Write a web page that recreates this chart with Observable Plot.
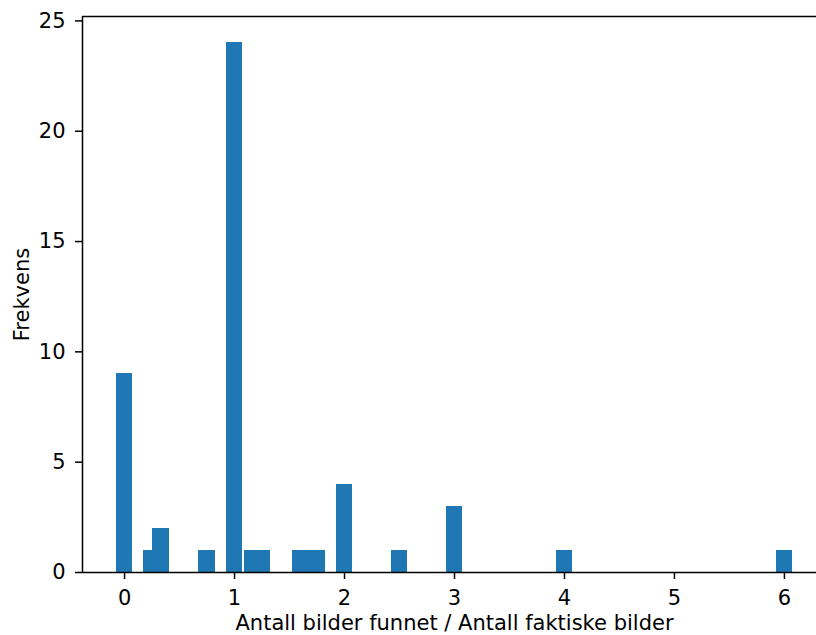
<!DOCTYPE html>
<html>
<head>
<meta charset="utf-8">
<script src="https://cdn.jsdelivr.net/npm/d3@7"></script>
<script src="https://cdn.jsdelivr.net/npm/@observablehq/plot@0.6"></script>
<style>
  html, body { margin: 0; padding: 0; background: white; overflow: hidden; }
  svg { overflow: hidden; }
</style>
</head>
<body>
<div id="chart"></div>
<script>
const ratios = [0, 0.25, 0.333, 0.75, 1, 1.167, 1.25, 1.6, 1.75, 2, 2.5, 3, 4, 6];
const counts = [9, 1, 2, 1, 24, 1, 1, 1, 1, 4, 1, 3, 1, 1];
const xTicks = [0, 1, 2, 3, 4, 5, 6];
const yTicks = [0, 5, 10, 15, 20, 25];
const xLabel = "Antall bilder funnet / Antall faktiske bilder";
const yLabel = "Frekvens";
const barWidth = 0.15;

const data = ratios.map((r, i) => ({x1: r - barWidth / 2, x2: r + barWidth / 2, count: counts[i]}));
const xMin = -0.075 - 0.05 * 6.15, xMax = 6.075 + 0.05 * 6.15;
const yMax = 24 * 1.05;
const fs = 21;

const chart = Plot.plot({
  width: 816,
  height: 635,
  marginLeft: 82,
  marginRight: -10,
  marginTop: 16,
  marginBottom: 63,
  style: {fontFamily: "DejaVu Sans", fontSize: fs + "px", color: "black", background: "white"},
  x: {domain: [xMin, xMax]},
  y: {domain: [0, yMax]},
  marks: [
    Plot.rect(data, {x1: "x1", x2: "x2", y1: 0, y2: "count", fill: "#1f77b4", inset: 0, shapeRendering: "crispEdges"}),
    Plot.axisX({ticks: xTicks, tickSize: 7, tickPadding: 11, tickFormat: d => String(d), label: null, strokeWidth: 1.5, fontSize: fs}),
    Plot.axisY({ticks: yTicks, tickSize: 7, tickPadding: 10, tickFormat: d => String(d), label: null, strokeWidth: 1.5, fontSize: fs}),
    Plot.ruleY([0], {stroke: "black", strokeWidth: 1.5}),
    Plot.ruleY([yMax], {stroke: "black", strokeWidth: 1.5}),
    Plot.ruleX([xMin], {stroke: "black", strokeWidth: 1.5}),
    Plot.ruleX([xMax], {stroke: "black", strokeWidth: 1.5}),
    Plot.text([xLabel], {frameAnchor: "bottom", text: d => d, lineAnchor: "bottom", dy: 57, fontSize: fs, fill: "black"}),
    Plot.text([yLabel], {frameAnchor: "left", text: d => d, dx: -60, rotate: -90, textAnchor: "middle", fontSize: fs, fill: "black"})
  ]
});
document.getElementById("chart").appendChild(chart);
</script>
</body>
</html>
